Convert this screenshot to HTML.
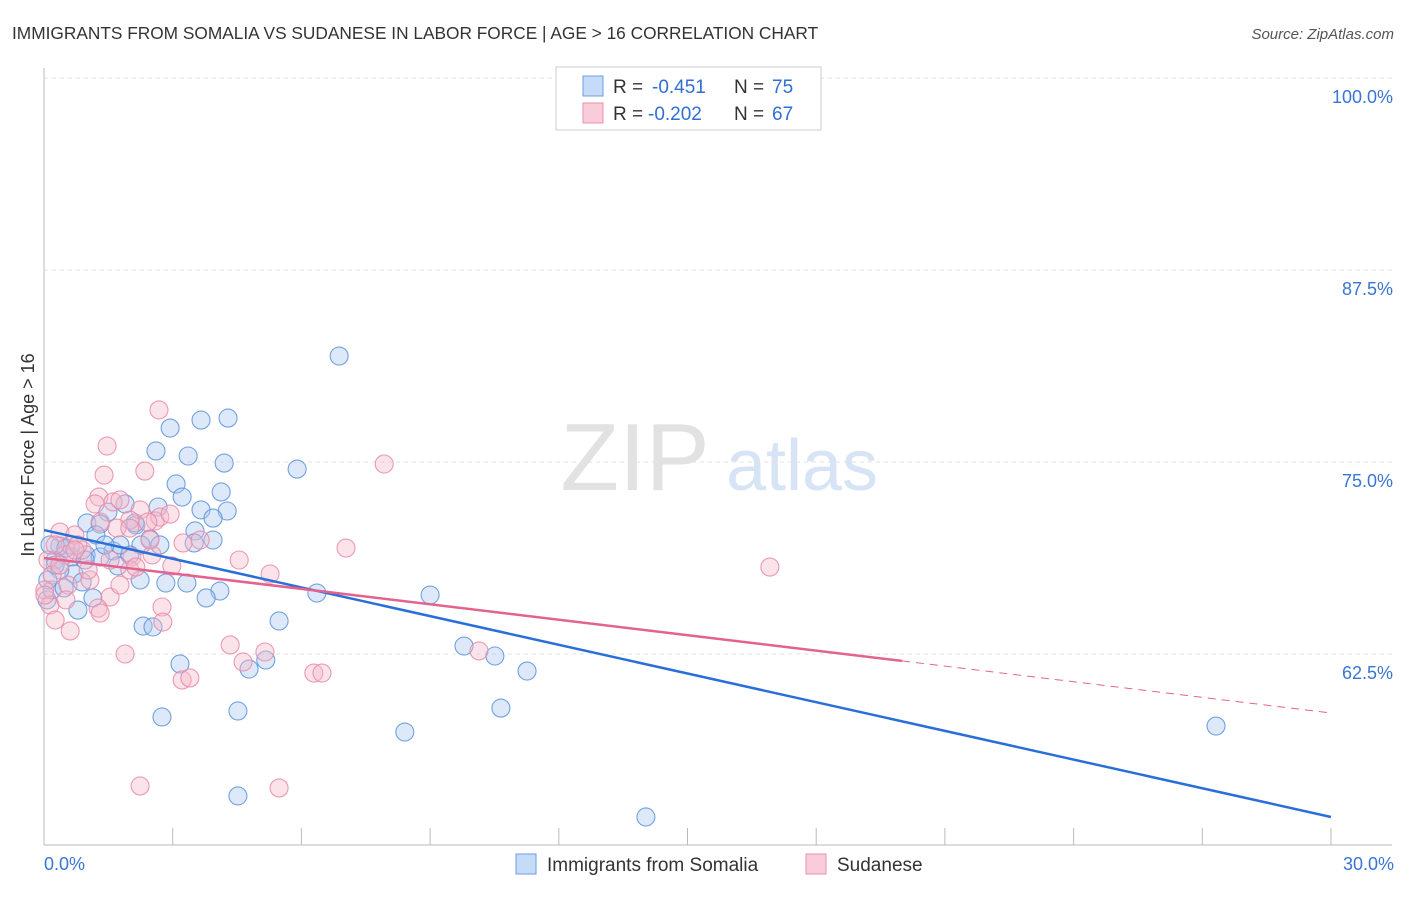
<!DOCTYPE html>
<html><head><meta charset="utf-8"><style>
body{margin:0;background:#fff;font-family:"Liberation Sans",sans-serif;}
svg text{font-family:"Liberation Sans",sans-serif;}
</style></head><body>
<svg width="1406" height="892" xmlns="http://www.w3.org/2000/svg">
<text x="12" y="39" font-size="17.3" fill="#333">IMMIGRANTS FROM SOMALIA VS SUDANESE IN LABOR FORCE | AGE &gt; 16 CORRELATION CHART</text>
<text x="1394" y="39" font-size="15" fill="#555" font-style="italic" text-anchor="end">Source: ZipAtlas.com</text>
<text x="635" y="490" font-size="96" fill="#e2e2e2" font-family="Liberation Serif" text-anchor="middle">ZIP</text>
<text x="802" y="490" font-size="72" fill="#d6e4f5" text-anchor="middle">atlas</text>
<g id="grid"></g>
<g id="pts"></g>
<g id="lines"></g>
<text transform="translate(34,455) rotate(-90)" font-size="18" fill="#333" text-anchor="middle">In Labor Force | Age &gt; 16</text>
<g>
<rect x="556" y="67" width="265" height="63" fill="#fff" stroke="#ccc"/>
<rect x="583" y="76" width="20" height="20" fill="#c5dbf7" stroke="#6a9fe0"/>
<rect x="583" y="103" width="20" height="20" fill="#f9ccd9" stroke="#ec8fac"/>
<text x="613" y="93" font-size="19" fill="#333">R =</text>
<text x="652" y="93" font-size="19" fill="#2f6fd6">-0.451</text>
<text x="734" y="93" font-size="19" fill="#333">N =</text>
<text x="772" y="93" font-size="19" fill="#2f6fd6">75</text>
<text x="613" y="120" font-size="19" fill="#333">R =</text>
<text x="648" y="120" font-size="19" fill="#2f6fd6">-0.202</text>
<text x="734" y="120" font-size="19" fill="#333">N =</text>
<text x="772" y="120" font-size="19" fill="#2f6fd6">67</text>
</g>
<g>
<rect x="516" y="854" width="20" height="20" fill="#c5dbf7" stroke="#6a9fe0"/>
<text x="547" y="871" font-size="19" fill="#333">Immigrants from Somalia</text>
<rect x="806" y="854" width="20" height="20" fill="#f9ccd9" stroke="#ec8fac"/>
<text x="837" y="871" font-size="19" fill="#333">Sudanese</text>
</g>
</svg>
<script>
const yTicks=[100,87.5,75,62.5];
const yTickLabels=["100.0%","87.5%","75.0%","62.5%"];
const xTickLabels=["0.0%","30.0%"];
const bluePx=[[339,356],[170,428],[201,420],[228,418],[156,451],[188,456],[224,463],[297,469],[176,484],[182,497],[221,492],[158,507],[108,512],[125,504],[201,510],[227,511],[213,518],[87,523],[100,524],[136,525],[135,523],[195,531],[213,540],[194,543],[150,539],[141,545],[113,551],[86,555],[100,557],[72,557],[60,546],[55,560],[50,545],[130,555],[118,566],[74,574],[140,580],[166,583],[187,583],[220,591],[206,598],[317,593],[430,595],[279,621],[78,610],[143,626],[153,627],[93,598],[180,664],[249,669],[266,660],[464,646],[495,656],[527,671],[162,717],[238,711],[501,708],[405,732],[1216,726],[238,796],[646,817],[47,600],[52,590],[60,570],[70,545],[96,535],[120,545],[160,545],[66,548],[85,560],[105,545],[48,580],[55,565],[64,588],[82,582]];
const pinkPx=[[159,410],[107,446],[104,475],[145,471],[99,497],[95,504],[113,502],[120,500],[140,510],[155,521],[160,517],[170,514],[130,520],[117,528],[130,528],[148,522],[183,543],[239,560],[346,548],[384,464],[770,567],[270,574],[152,555],[132,557],[110,560],[130,570],[136,567],[60,532],[75,535],[82,550],[65,555],[55,545],[48,560],[52,575],[68,585],[45,590],[50,605],[90,580],[110,597],[98,608],[100,613],[162,607],[70,631],[163,622],[172,566],[230,645],[243,662],[265,652],[182,680],[190,678],[314,673],[322,673],[479,651],[125,654],[140,786],[279,788],[60,565],[78,545],[88,570],[120,585],[45,595],[55,620],[200,540],[75,550],[66,600],[100,522],[150,540]];
const blueX=bluePx.map(p=>+((p[0]-44)/42.9).toFixed(2));
const blueY=bluePx.map(p=>+(100-(p[1]-78)/15.36).toFixed(2));
const pinkX=pinkPx.map(p=>+((p[0]-44)/42.9).toFixed(2));
const pinkY=pinkPx.map(p=>+(100-(p[1]-78)/15.36).toFixed(2));
const blueTrend=[[0,70.57],[30,51.89]];
const pinkTrend=[[0,68.75],[20,62.05],[30,58.66]];
const X=v=>44+v*42.9, Y=v=>78+(100-v)*15.36;
const NS="http://www.w3.org/2000/svg";
function mk(t,a,p){const e=document.createElementNS(NS,t);for(const k in a)e.setAttribute(k,a[k]);p.appendChild(e);return e;}
const grid=document.getElementById('grid');
yTicks.forEach((t,i)=>{
 const l=mk('line',{x1:44,x2:1392,y1:Y(t),y2:Y(t),stroke:'#e2e2e2','stroke-dasharray':'4,4'},grid);
 
 
 const tx=mk('text',{x:1393,y:Y(t)+25,'font-size':18,fill:'#3a75d4','text-anchor':'end'},grid);
 tx.textContent=yTickLabels[i];
 
 
});
const ax=mk('line',{x1:44,x2:44,y1:68,y2:845,stroke:'#bbb'},grid);


const bx=mk('line',{x1:44,x2:1392,y1:845,y2:845,stroke:'#bbb'},grid);


for(let i=1;i<=10;i++){const t=mk('line',{x1:X(i*3),x2:X(i*3),y1:828,y2:845,stroke:'#bbb'},grid);
 
 }
[[0,'start',44],[1,'end',1394]].forEach(([i,a,x])=>{const t=mk('text',{x:x,y:870,'font-size':18,fill:'#3a75d4','text-anchor':a},grid);t.textContent=xTickLabels[i];
 
 });
const pts=document.getElementById('pts');
function dots(xs,ys,f,s,n){xs.forEach((x,i)=>{const c=mk('circle',{cx:X(x),cy:Y(ys[i]),r:9,fill:f,'fill-opacity':0.4,stroke:s,'stroke-width':1.1,'stroke-opacity':0.85},pts);
 
 });}
dots(blueX,blueY,'#a9c8f0','#5b93dc','somalia-point');
dots(pinkX,pinkY,'#f6b8cb','#e98aa8','sudanese-point');
const lg=document.getElementById('lines');
const b=mk('line',{x1:X(blueTrend[0][0]),y1:Y(blueTrend[0][1]),x2:X(blueTrend[1][0]),y2:Y(blueTrend[1][1]),stroke:'#2a6fd8','stroke-width':2.5},lg);


const p1=mk('line',{x1:X(pinkTrend[0][0]),y1:Y(pinkTrend[0][1]),x2:X(pinkTrend[1][0]),y2:Y(pinkTrend[1][1]),stroke:'#e2638d','stroke-width':2.5},lg);


const p2=mk('line',{x1:X(pinkTrend[1][0]),y1:Y(pinkTrend[1][1]),x2:X(pinkTrend[2][0]),y2:Y(pinkTrend[2][1]),stroke:'#e2638d','stroke-width':1,'stroke-dasharray':'8,6'},lg);


</script>
</body></html>
